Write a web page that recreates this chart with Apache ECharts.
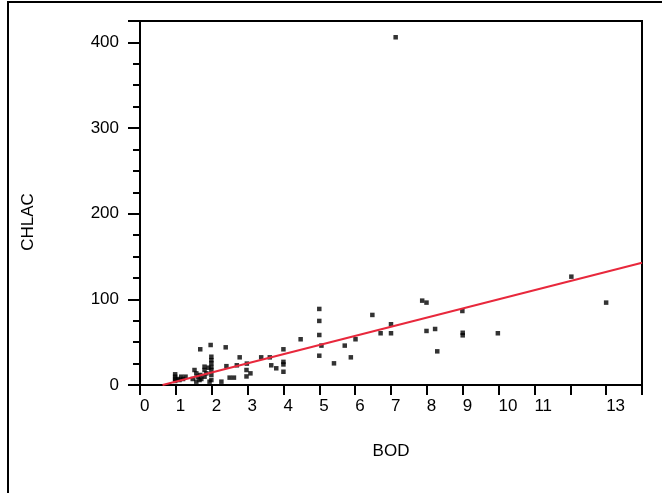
<!DOCTYPE html>
<html>
<head>
<meta charset="utf-8">
<script src="https://cdn.jsdelivr.net/npm/echarts@6/dist/echarts.min.js"></script>
<style>html,body{margin:0;padding:0;background:#fff}#c{width:662px;height:493px}</style>
</head>
<body>
<div id="c"></div>
<script>
var bod = [0.98,0.98,0.98,1.06,1.10,1.15,1.20,1.27,0.98,1.52,1.57,1.61,1.47,1.66,1.68,1.57,1.80,1.80,1.85,1.91,1.99,1.99,1.99,1.99,1.99,1.94,1.80,1.71,
  1.68,1.97,2.39,1.99,1.99,2.78,2.70,2.98,2.97,3.08,2.97,2.50,2.62,2.27,2.41,3.38,3.62,3.66,3.80,4.00,4.00,4.00,4.00,4.48,
  5.00,5.00,5.00,5.06,5.00,5.41,5.71,5.88,6.01,6.48,6.71,7.00,7.00,7.87,7.99,7.99,8.23,8.29,8.99,9.00,9.00,9.98,12.03,13.0,7.13];
var chlac = [12.5,9.7,7,7,5.8,9.7,7,9.7,4.7,17.5,13.6,9.7,7,5.8,11.7,3.9,21.4,17.5,13.6,20.2,25.3,29,17.5,11.7,5.8,3.9,9.7,7,
  41.7,46.7,44,33,21,32.3,23,25,17.5,13.6,10,8.6,8.6,3.9,22,32.3,32.3,23,19.5,41.7,27,24,15.5,53.4,
  88.8,74.8,58.4,46,34.2,25.3,46,32.3,53.4,81.8,60.4,70.9,60.4,98.5,96.2,63.1,65.4,39.3,86.4,61,58,60.4,126.5,96.2,406];
var fitX = [0.63, 14];
var fitY = [0, 142.8];
var xTickLabels = ['0','1','2','3','4','5','6','7','8','9','10','11','','13',''];
var yTickLabels = ['0','100','200','300','400'];

var pts = bod.map(function(v,i){return [v, chlac[i]];});
var fit = fitX.map(function(v,i){return [v, fitY[i]];});
var FONT = "'Liberation Sans', Arial, sans-serif";
var FS = 17;
var chart = echarts.init(document.getElementById('c'));
chart.setOption({
  animation: false,
  backgroundColor: '#fff',
  grid: {left: 140, right: 20, top: 21, bottom: 108, show: true, borderColor: '#000', borderWidth: 2, backgroundColor: 'transparent'},
  xAxis: {
    type: 'value', min: 0, max: 14, interval: 1,
    name: 'BOD', nameLocation: 'middle', nameGap: 58,
    nameTextStyle: {fontFamily: FONT, fontSize: FS, color: '#000'},
    axisLine: {show: true, onZero: false, lineStyle: {color: '#000', width: 2}},
    axisTick: {show: true, inside: false, length: 10, lineStyle: {color: '#000', width: 2}},
    axisLabel: {margin: 13, align: 'left', fontFamily: FONT, fontSize: FS, color: '#000',
      showMinLabel: true, showMaxLabel: true, hideOverlap: false,
      formatter: function(v){ var i = Math.round(v); return (Math.abs(v-i)<1e-6 && xTickLabels[i] !== undefined) ? xTickLabels[i] : ''; }},
    splitLine: {show: false}
  },
  yAxis: {
    type: 'value', min: 0, max: 425, interval: 100,
    axisLine: {show: true, onZero: false, lineStyle: {color: '#000', width: 2}},
    axisTick: {show: true, inside: false, length: 12, lineStyle: {color: '#000', width: 2}},
    minorTick: {show: true, splitNumber: 4, length: 7, lineStyle: {color: '#000', width: 2}},
    axisLabel: {margin: 21, fontFamily: FONT, fontSize: FS, color: '#000',
      showMinLabel: true, showMaxLabel: true, hideOverlap: false,
      formatter: function(v){ var i = Math.round(v/100); return (Math.abs(v-i*100)<1e-6 && yTickLabels[i] !== undefined) ? yTickLabels[i] : ''; }},
    splitLine: {show: false}
  },
  graphic: [
    {type: 'rect', shape: {x: 8, y: 2, width: 700, height: 600}, style: {fill: 'none', stroke: '#000', lineWidth: 2}, z: 100},
    {type: 'text', x: 28, y: 222, rotation: Math.PI/2, style: {text: 'CHLAC', fill: '#000', font: FS + 'px ' + FONT, textAlign: 'center', textVerticalAlign: 'middle'}}
  ],
  series: [
    {type: 'scatter', data: pts, symbol: 'rect', symbolSize: 4.5, itemStyle: {color: '#000'}, z: 3},
    {type: 'line', data: fit, symbol: 'none', lineStyle: {color: '#e8283c', width: 2}, z: 4}
  ]
});
</script>
</body>
</html>
